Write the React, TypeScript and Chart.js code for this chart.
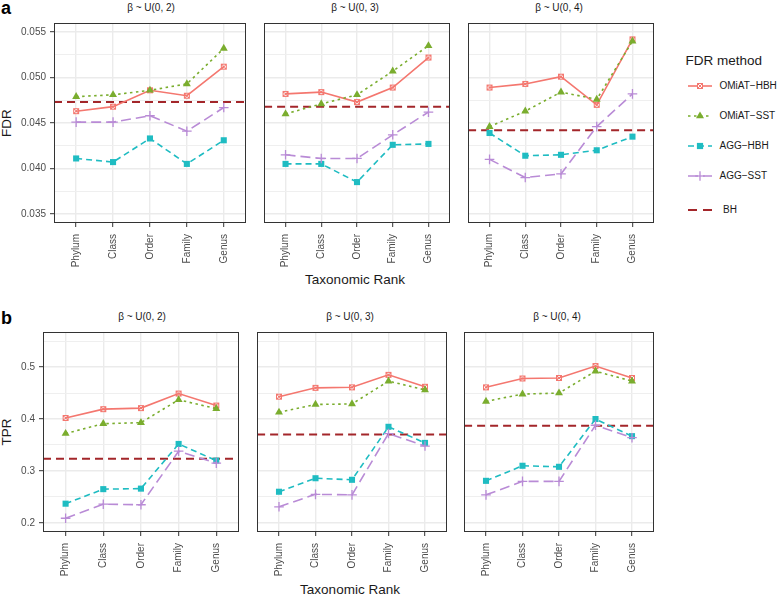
import React, { useEffect, useRef } from 'react';
import { Chart, registerables } from 'chart.js';

Chart.register(...registerables);
Chart.defaults.font.family = "'Liberation Sans', Arial, sans-serif";

// ---------- data ----------
const ranks = ['Phylum', 'Class', 'Order', 'Family', 'Genus'];
const facetTitles = ['β ~ U(0, 2)', 'β ~ U(0, 3)', 'β ~ U(0, 4)'];
const methodNames = ['OMiAT−HBH', 'OMiAT−SST', 'AGG−HBH', 'AGG−SST'];
const bhName = 'BH';

// FDR, one row per facet (U(0,2), U(0,3), U(0,4))
const fdrOmiatHbh = [
  [0.0463, 0.0468, 0.0486, 0.048, 0.0512],
  [0.0482, 0.0484, 0.0473, 0.0489, 0.0522],
  [0.0489, 0.0493, 0.0501, 0.047, 0.0542],
];
const fdrOmiatSst = [
  [0.0479, 0.0481, 0.0486, 0.0493, 0.0532],
  [0.046, 0.0471, 0.0481, 0.0507, 0.0535],
  [0.0446, 0.0463, 0.0484, 0.0476, 0.054],
];
const fdrAggHbh = [
  [0.0411, 0.0407, 0.0433, 0.0405, 0.0431],
  [0.0405, 0.0405, 0.0385, 0.0426, 0.0427],
  [0.0439, 0.0414, 0.0415, 0.042, 0.0435],
];
const fdrAggSst = [
  [0.0451, 0.0451, 0.0458, 0.0441, 0.0467],
  [0.0415, 0.0411, 0.0411, 0.0437, 0.0462],
  [0.041, 0.039, 0.0394, 0.0446, 0.0482],
];
const fdrBh = [0.0473, 0.0468, 0.0442];

// TPR, one row per facet
const tprOmiatHbh = [
  [0.402, 0.419, 0.421, 0.449, 0.426],
  [0.443, 0.46, 0.461, 0.485, 0.462],
  [0.461, 0.478, 0.479, 0.502, 0.479],
];
const tprOmiatSst = [
  [0.372, 0.391, 0.393, 0.437, 0.42],
  [0.413, 0.428, 0.429, 0.473, 0.456],
  [0.434, 0.448, 0.45, 0.492, 0.473],
];
const tprAggHbh = [
  [0.237, 0.265, 0.266, 0.352, 0.32],
  [0.26, 0.286, 0.283, 0.385, 0.354],
  [0.281, 0.31, 0.308, 0.4, 0.367],
];
const tprAggSst = [
  [0.209, 0.236, 0.235, 0.338, 0.315],
  [0.231, 0.255, 0.254, 0.372, 0.348],
  [0.254, 0.28, 0.28, 0.388, 0.364],
];
const tprBh = [0.3235, 0.37, 0.387];

const fdrLimits = [0.034, 0.056];
const fdrMajorTicks = [0.035, 0.04, 0.045, 0.05, 0.055];
const fdrTickLabels = ['0.035', '0.040', '0.045', '0.050', '0.055'];
const fdrMinorTicks = [0.0375, 0.0425, 0.0475, 0.0525];

const tprLimits = [0.1825, 0.5675];
const tprMajorTicks = [0.2, 0.3, 0.4, 0.5];
const tprTickLabels = ['0.2', '0.3', '0.4', '0.5'];
const tprMinorTicks = [0.25, 0.35, 0.45, 0.55];

// ---------- styles ----------
const FONT = "'Liberation Sans', Arial, sans-serif";
const seriesColors = ['#F4776F', '#7AAD2E', '#1FBCC2', '#B98BD6'];
const seriesDash = [[], [2.5, 3.5], [6, 4], [10, 5]];
const bhColor = '#A3262A';
const bhDash = [8, 5];
const LINE_W = 1.6;

let squareCrossCanvas: HTMLCanvasElement | null = null;
function getSquareCross(): HTMLCanvasElement {
  if (squareCrossCanvas) return squareCrossCanvas;
  const c = document.createElement('canvas');
  c.width = 8;
  c.height = 8;
  const ctx = c.getContext('2d')!;
  ctx.strokeStyle = seriesColors[0];
  ctx.lineWidth = 1;
  ctx.strokeRect(1.5, 1.5, 5, 5);
  ctx.beginPath();
  ctx.moveTo(1.5, 1.5);
  ctx.lineTo(6.5, 6.5);
  ctx.moveTo(6.5, 1.5);
  ctx.lineTo(1.5, 6.5);
  ctx.stroke();
  squareCrossCanvas = c;
  return c;
}

const panelBorder = {
  id: 'panelBorder',
  afterDraw(chart: any) {
    const { ctx, chartArea: a } = chart;
    ctx.save();
    ctx.strokeStyle = '#333333';
    ctx.lineWidth = 1;
    ctx.strokeRect(Math.round(a.left) + 0.5, Math.round(a.top) + 0.5, Math.round(a.width) - 1, Math.round(a.height) - 1);
    ctx.restore();
  },
};

type PanelProps = {
  left: number;
  top: number;
  width: number;
  height: number;
  padL: number;
  showY: boolean;
  series: number[][];
  bh: number;
  limits: number[];
  major: number[];
  minor: number[];
  labels: string[];
};

const T = 12;
const R = 4;
const B = 60;

function Panel(p: PanelProps) {
  const ref = useRef<HTMLCanvasElement>(null);
  const cw = p.padL + p.width + R;
  const ch = T + p.height + B;
  useEffect(() => {
    const isMinor = (v: number) => p.minor.some((m) => Math.abs(m - v) < 1e-9);
    const labelFor = (v: number) => {
      const i = p.major.findIndex((m) => Math.abs(m - v) < 1e-9);
      return i >= 0 ? p.labels[i] : '';
    };
    const pointStyles: any[] = [getSquareCross(), 'triangle', 'rect', 'cross'];
    const pointRadii = [3, 4.6, 4.3, 4.8];
    const datasets: any[] = p.series.map((vals, k) => ({
      label: methodNames[k],
      data: vals.map((y, i) => ({ x: i, y })),
      borderColor: seriesColors[k],
      backgroundColor: seriesColors[k],
      borderWidth: LINE_W,
      borderDash: seriesDash[k],
      pointStyle: pointStyles[k],
      pointRadius: pointRadii[k],
      pointBorderWidth: k === 3 ? 1.3 : 0,
      pointBorderColor: seriesColors[k],
      pointBackgroundColor: seriesColors[k],
      tension: 0,
      order: 4 - k,
    }));
    datasets.push({
      label: bhName,
      data: [
        { x: -0.6, y: p.bh },
        { x: 4.6, y: p.bh },
      ],
      borderColor: bhColor,
      borderWidth: 2,
      borderDash: bhDash,
      pointRadius: 0,
      order: 5,
    });
    const allY = [...p.major, ...p.minor].sort((a, b) => a - b);
    const chart = new Chart(ref.current!, {
      type: 'line',
      data: { datasets },
      plugins: [panelBorder],
      options: {
        animation: false,
        responsive: false,
        maintainAspectRatio: false,
        events: [],
        layout: { padding: { top: T, right: R, left: 0, bottom: 0 } },
        plugins: { legend: { display: false }, tooltip: { enabled: false } },
        scales: {
          x: {
            type: 'linear',
            min: -0.6,
            max: 4.6,
            afterBuildTicks: (s: any) => {
              s.ticks = ranks.map((_, i) => ({ value: i }));
            },
            afterFit: (s: any) => {
              s.height = B;
            },
            ticks: {
              autoSkip: false,
              minRotation: 90,
              maxRotation: 90,
              padding: 7,
              color: '#4D4D4D',
              font: { size: 10, family: FONT },
              callback: (v: any) => ranks[Math.round(Number(v))] ?? '',
            },
            grid: {
              color: '#EBEBEB',
              lineWidth: 1.4,
              drawTicks: true,
              tickLength: 4,
              tickColor: '#333333',
              tickWidth: 1,
            },
            border: { display: false },
          },
          y: {
            type: 'linear',
            min: p.limits[0],
            max: p.limits[1],
            afterBuildTicks: (s: any) => {
              s.ticks = allY.map((v) => ({ value: v }));
            },
            afterFit: (s: any) => {
              s.width = p.padL;
            },
            ticks: {
              display: p.showY,
              autoSkip: false,
              padding: 4,
              color: '#4D4D4D',
              font: { size: 10, family: FONT },
              callback: (v: any) => labelFor(Number(v)),
            },
            grid: {
              color: (c: any) => (c.tick && isMinor(c.tick.value) ? '#EFEFEF' : '#EBEBEB'),
              lineWidth: (c: any) => (c.tick && isMinor(c.tick.value) ? 1 : 1.4),
              drawTicks: p.showY,
              tickLength: 4,
              tickColor: (c: any) => (c.tick && isMinor(c.tick.value) ? 'rgba(0,0,0,0)' : '#333333'),
              tickWidth: 1,
            },
            border: { display: false },
          },
        },
      } as any,
    });
    return () => chart.destroy();
  }, []);
  return (
    <canvas
      ref={ref}
      width={cw}
      height={ch}
      style={{ position: 'absolute', left: p.left - p.padL, top: p.top - T, width: cw, height: ch }}
    />
  );
}

function Txt(props: {
  x: number;
  y: number;
  text: string;
  size: number;
  color?: string;
  bold?: boolean;
  rotate?: boolean;
  anchor?: 'center' | 'left';
}) {
  const { x, y, text, size, color = '#1A1A1A', bold, rotate, anchor = 'center' } = props;
  const tr =
    anchor === 'center'
      ? `translate(-50%,-50%)${rotate ? ' rotate(-90deg)' : ''}`
      : 'translate(0,-50%)';
  return (
    <div
      style={{
        position: 'absolute',
        left: x,
        top: y,
        transform: tr,
        fontSize: size,
        lineHeight: 1,
        whiteSpace: 'nowrap',
        color,
        fontWeight: bold ? 'bold' : 'normal',
        fontFamily: FONT,
      }}
    >
      {text}
    </div>
  );
}

function LegendKey({ k }: { k: number }) {
  const c = k < 4 ? seriesColors[k] : bhColor;
  const dash = k < 4 ? seriesDash[k].join(',') : '9,6';
  let marker: any = null;
  if (k === 0)
    marker = (
      <g stroke={c} strokeWidth={1} fill="white">
        <rect x={9.5} y={5.5} width={5} height={5} />
        <line x1={9.5} y1={5.5} x2={14.5} y2={10.5} />
        <line x1={14.5} y1={5.5} x2={9.5} y2={10.5} />
      </g>
    );
  if (k === 1) marker = <polygon points="12,3.4 16,10.3 8,10.3" fill={c} />;
  if (k === 2) marker = <rect x={8.9} y={4.9} width={6.2} height={6.2} fill={c} />;
  if (k === 3)
    marker = (
      <g stroke={c} strokeWidth={1.3}>
        <line x1={7.2} y1={8} x2={16.8} y2={8} />
        <line x1={12} y1={3.2} x2={12} y2={12.8} />
      </g>
    );
  return (
    <svg width={24} height={16} style={{ display: 'block' }}>
      <line
        x1={0}
        y1={8}
        x2={24}
        y2={8}
        stroke={c}
        strokeWidth={k < 4 ? LINE_W : 2}
        strokeDasharray={dash || undefined}
      />
      {marker}
    </svg>
  );
}

const topLefts = [54, 258, 462];
const botLefts = [43, 251, 458];
const legendYs = [86, 116, 146, 176, 210];

export default function App() {
  const fdrSeries = [0, 1, 2].map((f) => [fdrOmiatHbh[f], fdrOmiatSst[f], fdrAggHbh[f], fdrAggSst[f]]);
  const tprSeries = [0, 1, 2].map((f) => [tprOmiatHbh[f], tprOmiatSst[f], tprAggHbh[f], tprAggSst[f]]);
  return (
    <div
      style={{
        position: 'absolute',
        left: 0,
        top: 0,
        width: 778,
        height: 596,
        background: '#ffffff',
        overflow: 'hidden',
        fontFamily: FONT,
      }}
    >
      <Txt x={1} y={8} text="a" size={18} bold anchor="left" color="#000" />
      <Txt x={1} y={318} text="b" size={18} bold anchor="left" color="#000" />
      {topLefts.map((l, i) => (
        <Txt key={'st' + i} x={l + 97} y={8} text={facetTitles[i]} size={10} />
      ))}
      {botLefts.map((l, i) => (
        <Txt key={'sb' + i} x={l + 99} y={316.5} text={facetTitles[i]} size={10} />
      ))}
      <Txt x={7} y={123} text="FDR" size={13.5} rotate />
      <Txt x={7} y={432} text="TPR" size={13.5} rotate />
      <Txt x={355} y={280} text="Taxonomic Rank" size={13.5} />
      <Txt x={350} y={590} text="Taxonomic Rank" size={13.5} />

      {topLefts.map((l, i) => (
        <Panel
          key={'pt' + i}
          left={l}
          top={23}
          width={194}
          height={200}
          padL={i === 0 ? 54 : 0}
          showY={i === 0}
          series={fdrSeries[i]}
          bh={fdrBh[i]}
          limits={fdrLimits}
          major={fdrMajorTicks}
          minor={fdrMinorTicks}
          labels={fdrTickLabels}
        />
      ))}
      {botLefts.map((l, i) => (
        <Panel
          key={'pb' + i}
          left={l}
          top={332}
          width={198}
          height={200}
          padL={i === 0 ? 43 : 0}
          showY={i === 0}
          series={tprSeries[i]}
          bh={tprBh[i]}
          limits={tprLimits}
          major={tprMajorTicks}
          minor={tprMinorTicks}
          labels={tprTickLabels}
        />
      ))}

      <Txt x={685.5} y={60.5} text="FDR method" size={13.5} anchor="left" />
      {legendYs.map((y, k) => (
        <div key={'lg' + k} style={{ position: 'absolute', left: 688, top: y - 8 }}>
          <LegendKey k={k} />
        </div>
      ))}
      {legendYs.map((y, k) => (
        <Txt
          key={'lt' + k}
          x={k < 4 ? 719.5 : 723}
          y={y}
          text={k < 4 ? methodNames[k] : bhName}
          size={10}
          anchor="left"
        />
      ))}
    </div>
  );
}
